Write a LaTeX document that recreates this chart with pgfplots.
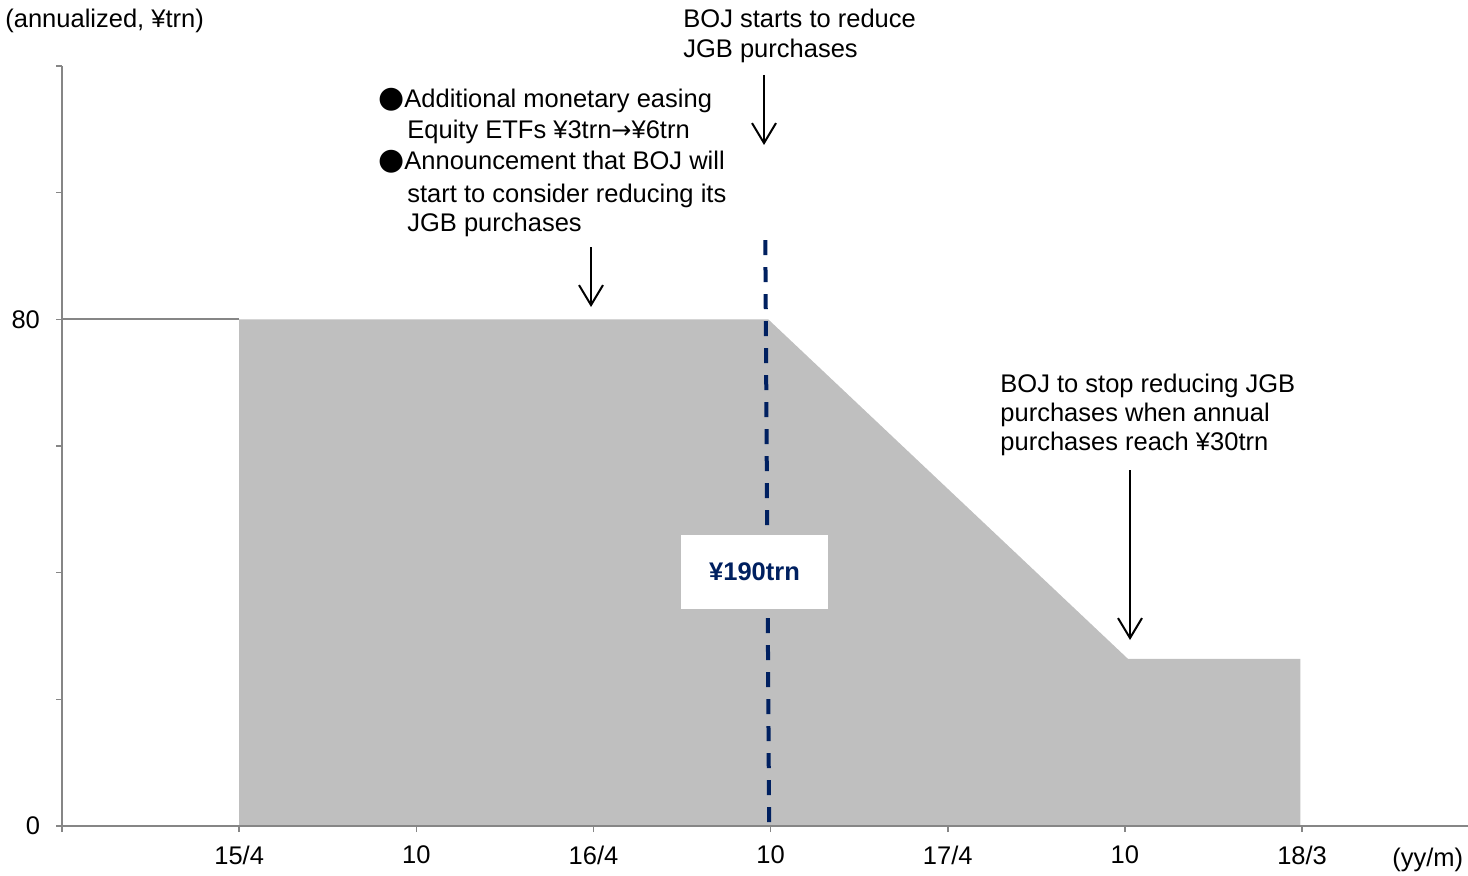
\documentclass[border=0pt]{standalone}
\usepackage{fontspec}
\setmainfont{Liberation Sans}
\newfontfamily\sym{DejaVu Sans}
\usepackage{pgfplots}
\pgfplotsset{compat=1.18}
\usetikzlibrary{arrows.meta}
\definecolor{axisgray}{HTML}{868686}
\definecolor{fillgray}{HTML}{BFBFBF}
\definecolor{navy}{HTML}{002060}
\newcommand\fs{\fontsize{12.75pt}{15pt}\selectfont}
\begin{document}
\begin{tikzpicture}
\useasboundingbox (0,0) rectangle (734pt,437.5pt);
\begin{axis}[
  at={(31pt,24.5pt)}, anchor=south west,
  scale only axis, width=703pt, height=380pt,
  xmin=-6, xmax=41.62, ymin=0, ymax=120,
  axis x line=bottom, axis y line=left,
  axis line style={-, draw=axisgray, line width=1pt},
  xtick={-6,0,6,12,18,24,30,36},
  xticklabels={,15/4,10,16/4,10,17/4,10,18/3},
  ytick={0,20,40,60,80,100,120},
  yticklabels={0,,,,80,,},
  tick align=outside, major tick length=3pt,
  tick style={draw=axisgray, line width=0.8pt},
  every tick label/.append style={font=\fs, text=black},
  xticklabel style={yshift=-3.5pt},
  yticklabel style={xshift=-4.5pt},
  /pgf/number format/assume math mode=true,
  clip=false, axis on top,
]
\addplot[fill=fillgray, draw=none] coordinates {(0,0)(0,80)(17.92,80)(30.1,26.4)(35.94,26.4)(35.94,0)} \closedcycle;
\addplot[axisgray, line width=1pt] coordinates {(-6,80)(0,80)};
\addplot[navy, line width=2pt, dash pattern=on 7.5pt off 6pt] coordinates {(17.82,92.5)(17.95,0)};
\end{axis}
% label box
\node[fill=white, minimum width=73.5pt, minimum height=37pt, inner sep=0pt, font=\fs\bfseries, text=navy] at (377.25pt,151.5pt) {¥190trn};
% texts
\node[anchor=base west, inner sep=0pt, font=\fs] at (2.5pt,423.5pt) {(annualized, ¥trn)};
\node[anchor=base west, inner sep=0pt, font=\fs] at (341.5pt,423.5pt) {BOJ starts to reduce};
\node[anchor=base west, inner sep=0pt, font=\fs] at (341.5pt,408.5pt) {JGB purchases};
\node[inner sep=0pt, font=\sym\fontsize{15pt}{15pt}\selectfont] at (196pt,387.5pt) {●};
\node[inner sep=0pt, font=\sym\fontsize{15pt}{15pt}\selectfont] at (196pt,356.5pt) {●};
\node[anchor=base west, inner sep=0pt, font=\fs] at (202pt,383.5pt) {Additional monetary easing};
\node[anchor=base west, inner sep=0pt, font=\fs] at (203.5pt,368pt) {Equity ETFs ¥3trn{\sym\fontsize{12pt}{15pt}\selectfont →}¥6trn};
\node[anchor=base west, inner sep=0pt, font=\fs] at (202pt,352.5pt) {Announcement that BOJ will};
\node[anchor=base west, inner sep=0pt, font=\fs] at (203.5pt,336.5pt) {start to consider reducing its};
\node[anchor=base west, inner sep=0pt, font=\fs] at (203.5pt,322pt) {JGB purchases};
\node[anchor=base west, inner sep=0pt, font=\fs] at (500pt,241.5pt) {BOJ to stop reducing JGB};
\node[anchor=base west, inner sep=0pt, font=\fs] at (500pt,227pt) {purchases when annual};
\node[anchor=base west, inner sep=0pt, font=\fs] at (500pt,212.5pt) {purchases reach ¥30trn};
\node[anchor=base west, inner sep=0pt, font=\fs] at (696pt,4.5pt) {(yy/m)};
% arrows
\draw[line width=1pt, -{Straight Barb[length=10pt,width=12pt]}] (382pt,400pt) -- (382pt,365pt);
\draw[line width=1pt, -{Straight Barb[length=10pt,width=12pt]}] (295.5pt,314pt) -- (295.5pt,284pt);
\draw[line width=1pt, -{Straight Barb[length=10pt,width=12pt]}] (565pt,202.5pt) -- (565pt,117.5pt);
\end{tikzpicture}
\end{document}
